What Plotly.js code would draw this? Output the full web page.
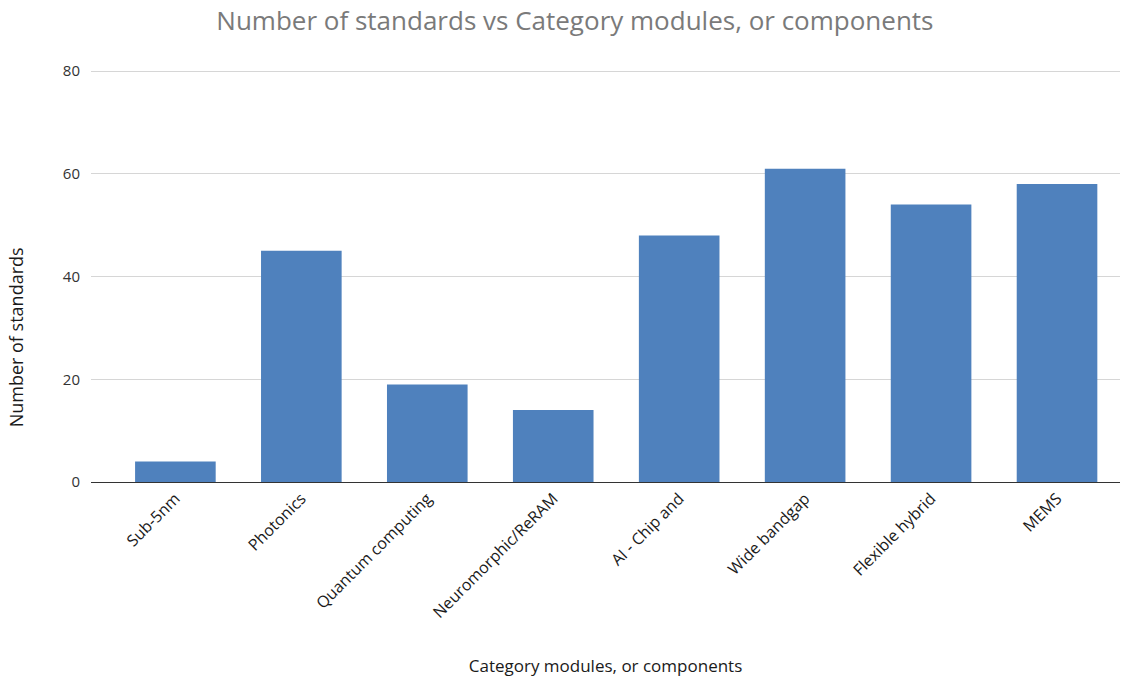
<!DOCTYPE html>
<html>
<head>
<meta charset="utf-8">
<script src="https://cdn.plot.ly/plotly-3.0.1.min.js"></script>
<style>html,body{margin:0;padding:0;background:#fff;}#chart{width:1134px;height:682px;}</style>
</head>
<body>
<div id="chart"></div>
<script>
const categories = ["Sub-5nm", "Photonics", "Quantum computing", "Neuromorphic/ReRAM", "AI - Chip and", "Wide bandgap", "Flexible hybrid", "MEMS"];
const standards = [4, 45, 19, 14, 48, 61, 54, 58];
const yTicks = [0, 20, 40, 60, 80];

const trace = {
  type: "bar",
  x: categories,
  y: standards,
  marker: {color: "#4f81bd"},
  width: 0.64,
  hoverinfo: "x+y"
};

const layout = {
  width: 1134,
  height: 682,
  margin: {l: 91, r: 14, t: 69, b: 200},
  paper_bgcolor: "#ffffff",
  plot_bgcolor: "#ffffff",
  showlegend: false,
  font: {family: "Open Sans, sans-serif", color: "#222"},
  title: {
    text: "Number of standards vs Category modules, or components",
    font: {family: "Open Sans, sans-serif", size: 26, color: "#7a7a7a"},
    x: 0.507, xanchor: "center", y: 0.97, yanchor: "middle"
  },
  xaxis: {
    type: "category",
    range: [-0.67, 7.5],
    tickangle: -45,
    tickfont: {size: 16, color: "#1a1a1a"},
    showgrid: false,
    showline: true,
    linecolor: "#333",
    linewidth: 1,
    ticks: "",
    title: {text: "Category modules, or components", font: {size: 17, color: "#1a1a1a"}, standoff: 38}
  },
  yaxis: {
    range: [0, 80.4],
    tickvals: yTicks,
    ticktext: yTicks.map(String),
    tickfont: {size: 15, color: "#333"},
    showgrid: true,
    gridcolor: "#d6d6d6",
    zeroline: true,
    zerolinecolor: "#333",
    zerolinewidth: 1,
    ticks: "",
    ticklabelstandoff: 10
  },
  annotations: [{
    text: "Number of standards",
    textangle: -90,
    xref: "paper", yref: "paper",
    x: -0.072, y: 0.35,
    xanchor: "center", yanchor: "middle",
    showarrow: false,
    font: {size: 18, color: "#1a1a1a"}
  }]
};

Plotly.newPlot("chart", [trace], layout, {displayModeBar: false, staticPlot: true});
</script>
</body>
</html>
